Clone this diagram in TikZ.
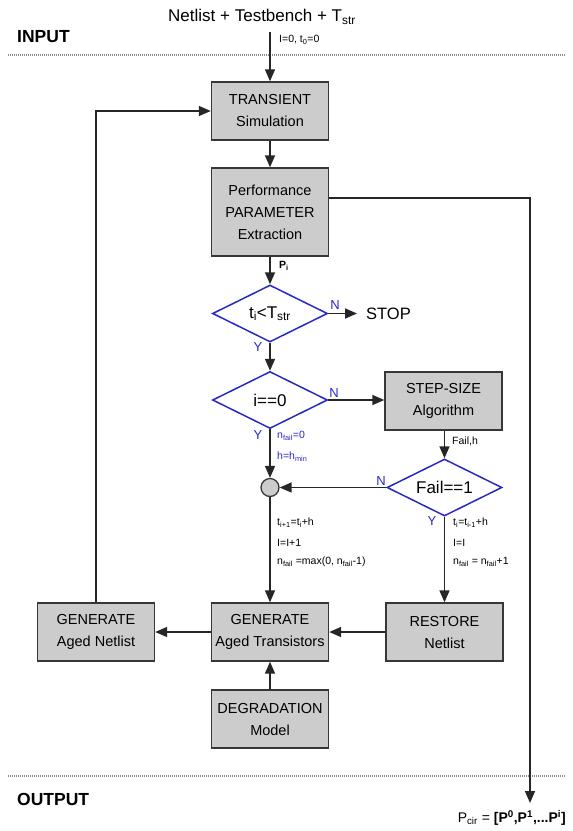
\documentclass[tikz,border=0pt]{standalone}
\usepackage{fontspec}
\setmainfont{Liberation Sans}
\usetikzlibrary{arrows.meta,shapes.geometric}
\definecolor{dblue}{RGB}{40,40,200}
\definecolor{boxfill}{RGB}{204,204,204}
\definecolor{boxline}{RGB}{55,55,55}
\newcommand{\lsub}[1]{\textsubscript{#1}}
\newcommand{\lsup}[1]{\textsuperscript{#1}}
\begin{document}
\begin{tikzpicture}[x=1pt,y=-1pt,
  box/.style={draw=boxline, fill=boxfill, line width=1.4pt, minimum width=117pt, minimum height=58pt,
    align=center, inner sep=0pt, font=\fontsize{14.5}{22}\selectfont},
  dia/.style={draw=dblue, shape=diamond, line width=1.5pt, minimum width=115pt, minimum height=57pt, inner sep=0pt},
  diatext/.style={font=\fontsize{17}{20}\selectfont, inner sep=0pt},
  arr/.style={-{Triangle[length=12pt,width=10pt]}, line width=1.6pt, draw=black!85},
  lab/.style={font=\fontsize{10.5}{12}\selectfont, inner sep=0pt, anchor=west},
  blab/.style={font=\fontsize{10.5}{12}\selectfont, inner sep=0pt, anchor=west, text=dblue},
  yn/.style={font=\fontsize{13}{14}\selectfont, inner sep=0pt, text=dblue},
  sep/.style={draw=black!45, line width=1.2pt, dash pattern=on 1pt off 1pt},
  head/.style={font=\bfseries\fontsize{17.5}{20}\selectfont, inner sep=0pt, anchor=west}
]
\useasboundingbox (0,0) rectangle (573,831);

% titles and separators
\node[font=\fontsize{17}{20}\selectfont, inner sep=0pt] (title) at (262,17) {Netlist + Testbench + T\lsub{str}};
\node[head] (input) at (17,37) {INPUT};
\node[head] (output) at (17,799) {OUTPUT};
\coordinate (sepAl) at (8,55);
\coordinate (sepAr) at (565,55);
\coordinate (sepBl) at (8,776);
\coordinate (sepBr) at (565,776);
\draw[sep] (sepAl) -- (sepAr);
\draw[sep] (sepBl) -- (sepBr);

% nodes
\coordinate (start) at (270,32);
\node[box] (trans) at (270,111) {TRANSIENT\\Simulation};
\node[box, minimum height=88pt] (perf) at (270,212) {Performance\\PARAMETER\\Extraction};
\node[dia] (d1) at (270,313.5) {};
\node[diatext] (d1t) at (d1) {t\lsub{i}<T\lsub{str}};
\node[font=\fontsize{16.5}{20}\selectfont, inner sep=0pt, anchor=west] (stop) at (366,313.5) {STOP};
\node[dia] (d2) at (270,400) {};
\node[diatext] (d2t) at (d2) {i==0};
\node[box] (step) at (443.5,401) {STEP-SIZE\\Algorithm};
\node[dia] (d3) at (444.5,487.5) {};
\node[diatext] (d3t) at (d3) {Fail==1};
\node[circle, draw=boxline, fill=boxfill, line width=1.3pt, minimum size=18pt, inner sep=0pt] (join) at (270,487.5) {};
\node[box] (gennet) at (96,632) {GENERATE\\Aged Netlist};
\node[box] (gentr) at (270,632) {GENERATE\\Aged Transistors};
\node[box] (restore) at (444.5,632) {RESTORE\\Netlist};
\node[box] (degr) at (270,719) {DEGRADATION\\Model};
\coordinate (py) at (0,198);
\coordinate (pout) at (530,803);

% connectors
\draw[arr] (start) -- (trans.north);
\draw[arr] (trans.south) -- (perf.north);
\draw[arr] (perf.south) -- (d1.north);
\draw[arr] (d1.east) -- ([xshift=-9pt]stop.west);
\draw[arr] (d1.south) -- (d2.north);
\draw[arr] (d2.east) -- (step.west |- d2.east);
\draw[arr] (d2.south) -- (join.north);
\draw[arr] (step.south -| d3.north) -- (d3.north);
\draw[arr] (d3.west) -- (join.east);
\draw[arr] (join.south) -- (gentr.north);
\draw[arr] (d3.south) -- (restore.north);
\draw[arr] (restore.west) -- (gentr.east);
\draw[arr] (gentr.west) -- (gennet.east);
\draw[arr] (degr.north) -- (gentr.south);
\draw[arr] (gennet.north) |- (trans.west);
\draw[arr] (perf.east |- py) -| (pout);

% labels
\node[lab] (l0) at (279,40) {I=0, t\lsub{0}=0};
\node[lab, font=\bfseries\fontsize{10.5}{12}\selectfont] (lp) at (279,266) {P\lsub{i}};
\node[yn] (n1) at (335,305) {N};
\node[yn] (y1) at (258,347) {Y};
\node[yn] (n2) at (334,393) {N};
\node[yn] (y2) at (258,435) {Y};
\node[yn] (n3) at (381,481) {N};
\node[yn] (y3) at (432,521) {Y};
\node[blab] (b1) at (277,436) {n\lsub{fail}=0};
\node[blab] (b2) at (277,457) {h=h\lsub{min}};
\node[lab] (fh) at (452,441) {Fail,h};
\node[lab] (a1) at (277,523) {t\lsub{i+1}=t\lsub{i}+h};
\node[lab] (a2) at (277,543) {I=I+1};
\node[lab] (a3) at (277,562) {n\lsub{fail} =max(0, n\lsub{fail}-1)};
\node[lab] (c1) at (453,523) {t\lsub{i}=t\lsub{i-1}+h};
\node[lab] (c2) at (453,543) {I=I};
\node[lab] (c3) at (453,562) {n\lsub{fail} = n\lsub{fail}+1};
\node[font=\fontsize{14}{18}\selectfont, inner sep=0pt, anchor=east] (pcir) at (566,818) {P\lsub{cir} = \textbf{[P\lsup{0},P\lsup{1},...P\lsup{i}]}};
\end{tikzpicture}
\end{document}
